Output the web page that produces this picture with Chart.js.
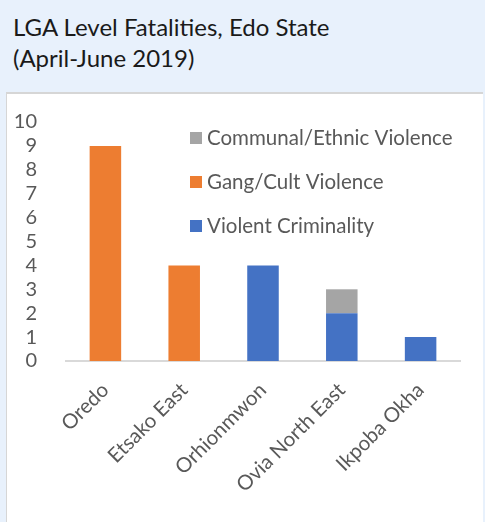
<!DOCTYPE html>
<html>
<head>
<meta charset="utf-8">
<script src="https://cdn.jsdelivr.net/npm/chart.js@4"></script>
<style>
  html, body { margin: 0; padding: 0; }
  body { width: 485px; height: 522px; background: #e8f1fc; position: relative; overflow: hidden; font-family: Lato, sans-serif; }
  #title { position: absolute; left: 13px; top: 11px; font-size: 24px; line-height: 31px; color: #1a1a1a; }
  #box { position: absolute; left: 6px; top: 92px; width: 476px; height: 430px; background: #fff; border-top: 2px solid #d6d6d6; border-left: 1px solid #d6d6d6; }
  #wrap { position: absolute; left: 0; top: 0; width: 476px; height: 430px; }
</style>
</head>
<body>
<div id="title">LGA Level Fatalities, Edo State<br>(April-June 2019)</div>
<div id="box"><div id="wrap"><canvas id="chart"></canvas></div></div>
<script>
const categories = ['Oredo', 'Etsako East', 'Orhionmwon', 'Ovia North East', 'Ikpoba Okha'];
const violentCriminality = [0, 0, 4, 2, 1];
const gangCultViolence = [9, 4, 0, 0, 0];
const communalEthnicViolence = [0, 0, 0, 1, 0];

const textColor = '#595959';
const fontFamily = 'Lato, sans-serif';

// legend drawn inside the plot, upper right, in reverse stacking order
const insideLegend = {
    id: 'insideLegend',
    afterDraw(chart) {
        const ctx = chart.ctx;
        const area = chart.chartArea;
        const items = chart.data.datasets.slice().reverse();
        const x = area.left + 124;
        let y = area.top + 16;
        ctx.save();
        ctx.font = '20.5px ' + fontFamily;
        ctx.textBaseline = 'middle';
        ctx.textAlign = 'left';
        items.forEach(ds => {
            ctx.fillStyle = ds.backgroundColor;
            ctx.fillRect(x, y - 6, 12, 12);
            ctx.fillStyle = textColor;
            ctx.fillText(ds.label, x + 17, y);
            y += 44;
        });
        ctx.restore();
    }
};

new Chart(document.getElementById('chart').getContext('2d'), {
    type: 'bar',
    data: {
        labels: categories,
        datasets: [
            { label: 'Violent Criminality', data: violentCriminality, backgroundColor: '#4472C4' },
            { label: 'Gang/Cult Violence', data: gangCultViolence, backgroundColor: '#ED7D31' },
            { label: 'Communal/Ethnic Violence', data: communalEthnicViolence, backgroundColor: '#A5A5A5' }
        ]
    },
    options: {
        responsive: true,
        maintainAspectRatio: false,
        animation: false,
        layout: { padding: { top: 28, right: 23, left: 0, bottom: 0 } },
        datasets: { bar: { barPercentage: 0.4, categoryPercentage: 1 } },
        plugins: {
            legend: { display: false },
            tooltip: { enabled: false }
        },
        scales: {
            x: {
                stacked: true,
                grid: { display: false },
                border: { display: true, color: '#d9d9d9', width: 2 },
                ticks: {
                    color: textColor,
                    font: { family: fontFamily, size: 20.5 },
                    maxRotation: 45,
                    minRotation: 45,
                    padding: 9
                },
                afterFit(scale) { scale.height = 163; }
            },
            y: {
                stacked: true,
                min: 0,
                max: 10,
                grid: { display: false },
                border: { display: false },
                ticks: {
                    stepSize: 1,
                    autoSkip: false,
                    color: textColor,
                    font: { family: fontFamily, size: 20 },
                    padding: 21
                },
                afterFit(scale) {
                    scale.width = 59;
                    // tick padding otherwise pushes the plot top down
                    scale.paddingTop = 0;
                    scale.paddingBottom = 0;
                }
            }
        }
    },
    plugins: [insideLegend]
});
</script>
</body>
</html>
